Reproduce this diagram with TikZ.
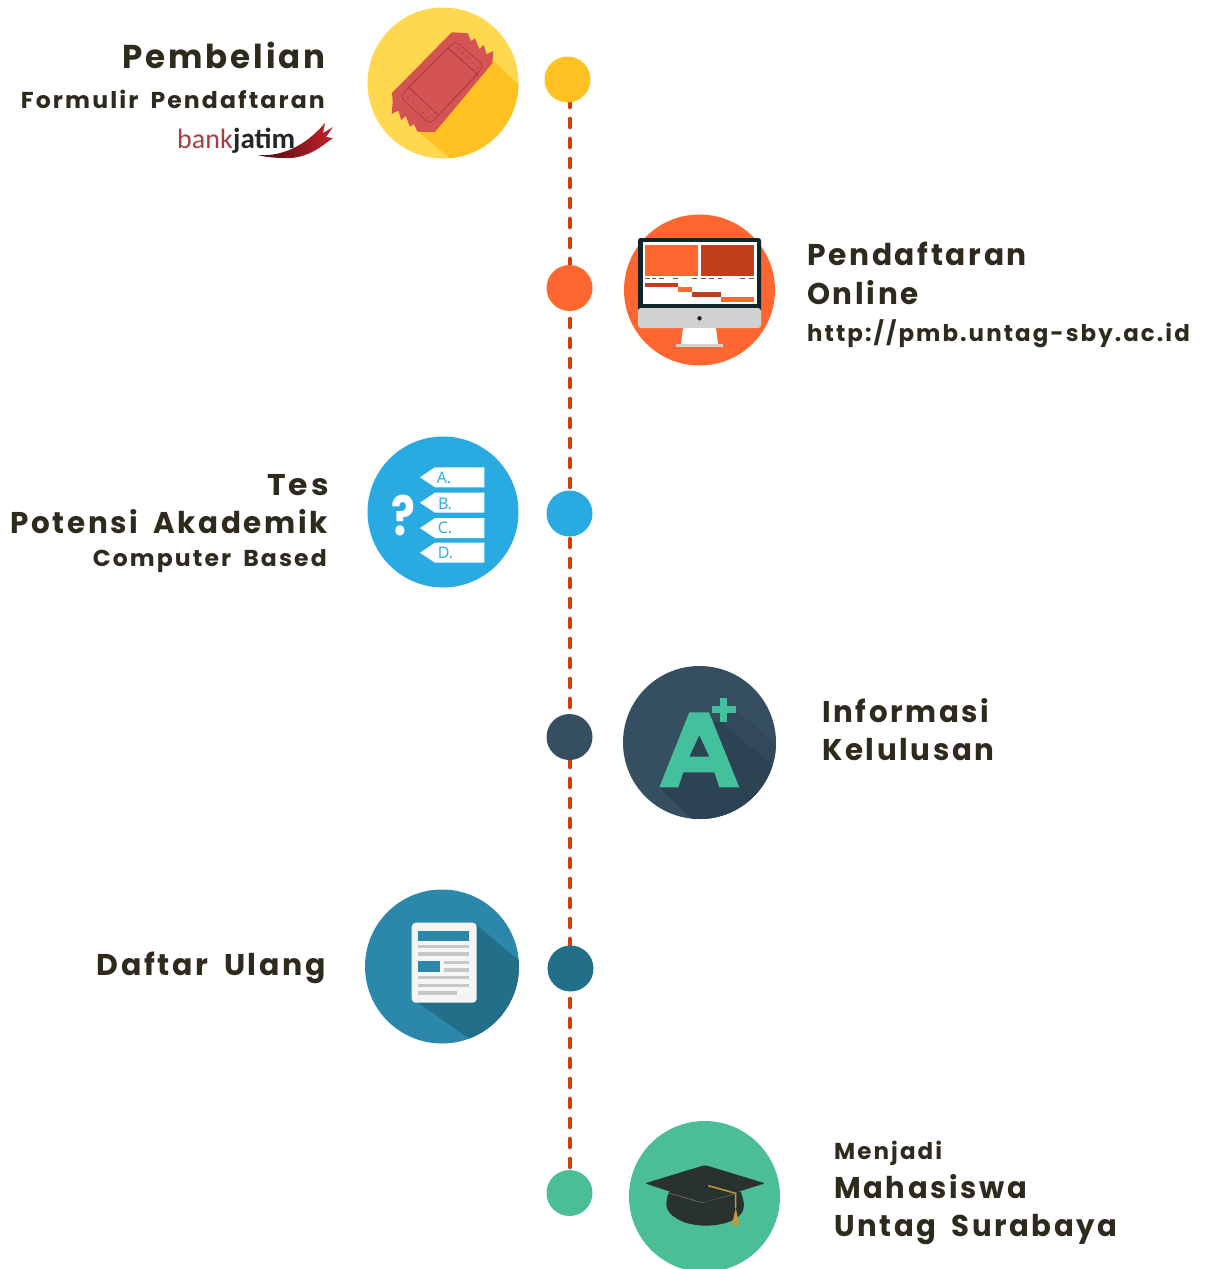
\documentclass[tikz,border=0pt]{standalone}
\usepackage{fontspec}
\setmainfont{Poppins}[UprightFont=* Bold,LetterSpace=9,WordSpace=1.7]
\newfontfamily\logofont{Carlito}
\newfontfamily\tagfont{Open Sans}
\definecolor{ink}{HTML}{2E2A1E}
\definecolor{yel}{HTML}{FFC222}
\definecolor{yellt}{HTML}{FFD84F}
\definecolor{org}{HTML}{FF6630}
\definecolor{orgd}{HTML}{C23F1E}
\definecolor{blu}{HTML}{29ABE2}
\definecolor{slate}{HTML}{364F60}
\definecolor{slatem}{HTML}{31495A}
\definecolor{slated}{HTML}{2C4354}
\definecolor{teal}{HTML}{2B88AA}
\definecolor{teald}{HTML}{236F8A}
\definecolor{grn}{HTML}{4BBE96}
\definecolor{mint}{HTML}{44C09C}
\definecolor{redt}{HTML}{D45353}
\definecolor{redd}{HTML}{A93C44}
\definecolor{capk}{HTML}{2A3230}
\definecolor{gold}{HTML}{C49A35}
\definecolor{bez}{HTML}{12232B}
\definecolor{lineo}{HTML}{D83A0C}
\definecolor{wingl}{HTML}{4A0A12}
\definecolor{wingm}{HTML}{E3202B}
\definecolor{wingr}{HTML}{C4202A}
\pgfdeclarelayer{back}
\pgfsetlayers{back,main}
\tikzset{
 x=1pt,y=-1pt,
 big/.style={circle,inner sep=0,minimum size=#1pt},
 dot/.style={circle,inner sep=0,minimum size=46pt,fill=#1},
 lbl/.style={inner sep=0,text=ink},
 lblr/.style={lbl,anchor=base east},
 lbll/.style={lbl,anchor=base west},
 link/.style={lineo,line width=4pt,line cap=round,dash pattern=on 8.5pt off 11.5pt,dash phase=#1},
 tagl/.style={inner sep=0,text=blu,font=\tagfont\fontsize{16}{16}\selectfont},
 greyl/.style={fill=black!22},
}
\newcommand{\fs}[1]{\fontsize{#1}{#1}\selectfont}
\newcommand{\sx}[2]{\scalebox{#1}[1]{#2}}
\begin{document}
\begin{tikzpicture}
\useasboundingbox (0,0) rectangle (1206,1269);
\clip (0,0) rectangle (1206,1269);
% timeline
\coordinate (lx) at (570,0);
\node[dot=yel] (d1) at (567.5,79.5) {};
\node[dot=org] (d2) at (569.5,288) {};
\node[dot=blu] (d3) at (569.5,513.5) {};
\node[dot=slate] (d4) at (569.5,737) {};
\node[dot=teald] (d5) at (570.5,968.5) {};
\node[dot=grn] (d6) at (569.5,1193) {};
\begin{pgfonlayer}{back}
\draw[link=0.75] (lx |- d1) -- (lx |- d2);
\draw[link=9.25] (lx |- d2) -- (lx |- d3);
\draw[link=14.75] (lx |- d3) -- (lx |- d4);
\draw[link=18.25] (lx |- d4) -- (lx |- d5);
\draw[link=9.75] (lx |- d5) -- (lx |- d6);
\end{pgfonlayer}
% ---- ticket
\node[big=151,fill=yellt] (c1) at (443,83) {};
\begin{scope}
\clip (443,83) circle[radius=75.5pt];
\fill[yel] (491,58) -- (560,125) -- (500,200) -- (418.6,132) -- cycle;
\end{scope}
\fill[redt,line join=round] (392,93) -- (451.7,32.3) -- (467.7,33.3) -- (471,41) -- (475,38.3) -- (479.3,49) -- (483.7,45) -- (486.7,54.3) -- (493.3,51) -- (492.3,63.3) -- (435,132) -- (417.3,131.7) -- (414,124) -- (410,126.7) -- (405.7,116) -- (401.3,120) -- (398.3,110.7) -- (391.7,114) -- (392.7,101.7) -- cycle;
\draw[redd,line width=.7pt,rounded corners=5pt] (455,40.7) -- (484.3,65.7) -- (430,124.3) -- (400,96.7) -- cycle;
\draw[redd,line width=1pt] (448.3,48.3) -- (478.3,75);
\draw[redd,line width=1pt] (408.3,86.7) -- (438.3,115);
\draw[redt!80!black,line width=.5pt] (448.3,48.3) -- (408.3,86.7);
\draw[redt!80!black,line width=.5pt] (478.3,75) -- (438.3,115);
\foreach \t in {0,.25,.5,.75,1}{
  \fill[redd] ({458+\t*20},{48+\t*19.7}) circle[radius=.9pt];
  \fill[redd] ({408+\t*20},{98+\t*20}) circle[radius=.9pt];
}
% ---- monitor
\node[big=151,fill=org] (c2) at (699.5,290) {};
\fill[bez,rounded corners=2.5pt] (638,238) rectangle (761,312);
\fill[white] (643,242) rectangle (757,304);
\fill[black!18,rounded corners=3pt] (638,308) -- (761,308) -- (761,328) -- (638,328) -- cycle;
\fill[white] (683,328) -- (716,328) -- (718,344.3) -- (681,344.3) -- cycle;
\fill[black!18] (675.7,344.3) rectangle (723,347);
\fill[bez] (699.5,318.3) circle[radius=2.2pt];
\fill[org] (645,245) rectangle (698,275.7);
\fill[orgd] (701,245) rectangle (753.7,275.7);
\foreach \xa/\xb in {645/649.5,652/656,659/664,673/678,692/697,701/706,709/713.5,718/722,740/744.5,749/754}
  \fill[black!65] (\xa,277.7) rectangle (\xb,278.9);
\fill[orgd] (645,283) rectangle (678,287.3);
\fill[org] (678,287.3) rectangle (692.3,292.3);
\fill[orgd] (692.3,292.3) rectangle (720.7,297);
\fill[org] (720.7,297) rectangle (753.7,301.7);
% ---- questions
\node[big=151,fill=blu] (c3) at (443,512) {};
\foreach \ya/\yb in {467.3/487.3,492.7/512.7,518/538,542.7/562.7}
  \fill[white] (484.3,\ya) -- (484.3,\yb) -- (435,\yb) -- (420,{(\ya+\yb)/2}) -- (435,\ya) -- cycle;
\node[tagl] (ta) at (444,478) {A.};
\node[tagl] (tb) at (445,503.5) {B.};
\node[tagl] (tc) at (445,528) {C.};
\node[tagl] (td) at (445.5,553) {D.};
\node[inner sep=0,text=white] (q) at (403.5,515) {\scalebox{.85}[1.05]{\fontsize{52}{52}\selectfont ?}};
% ---- A+
\node[big=153,fill=slate] (c4) at (699.5,742.5) {};
\begin{scope}
\clip (699.5,742.5) circle[radius=76.5pt];
\fill[slatem] (736,710) -- (800,766) -- (800,850) -- (700,850) -- (720,722) -- cycle;
\fill[slated] (720,721.7) -- (800,788.5) -- (800,850) -- (724,850) -- (659,787.5) -- (690,720) -- cycle;
\end{scope}
\fill[mint,even odd rule] (659.3,787.3) -- (689.3,712.3) -- (709,712.3) -- (739.3,787.3) -- (719.3,787.3) -- (714.3,772.3) -- (683.3,772.3) -- (678.3,787.3) -- cycle
 (699.3,735) -- (689.3,756.7) -- (709.3,756.7) -- cycle;
\fill[mint] (711.7,706) rectangle (736,713.3);
\fill[mint] (720,697.7) rectangle (727.3,721.7);
% ---- document
\node[big=154,fill=teal] (c5) at (442,966.5) {};
\begin{scope}
\clip (442,966.5) circle[radius=77pt];
\fill[teald] (476.7,925) -- (540,978) -- (540,1060) -- (500,1060) -- (418,1002.7) -- cycle;
\end{scope}
\fill[black!4,rounded corners=4pt] (411.7,922.7) rectangle (476.7,1002.7);
\fill[teal] (418.3,931) rectangle (469.3,941);
\foreach \ya/\xa/\xb in {945/418.3/469.3,952.3/418.3/469.3,960.7/444/469.3,968.3/444/469.3,976/418.3/469.3,983.7/418.3/469.3,991.3/418.3/456.7}
  \fill[greyl] (\xa,\ya) rectangle (\xb,\ya+3.3);
\fill[teal] (418.3,960.7) rectangle (440,971.7);
% ---- cap
\node[big=151,fill=grn] (c6) at (704.5,1196.5) {};
\fill[capk] (669,1191.7) .. controls (664,1205) and (666,1212) .. (676,1218) .. controls (690,1228) and (720,1228) .. (735,1219) .. controls (745,1213) and (746,1205) .. (740.7,1191.7) -- cycle;
\draw[black!55,line width=.6pt] (669,1193) -- (702,1202.7) -- (737,1193);
\fill[capk,rounded corners=2pt] (645,1183.3) -- (705,1165) -- (765,1183.3) -- (703.3,1202.7) -- cycle;
\draw[gold,line width=1.5pt] (708.3,1185.7) -- (735.7,1193.3) -- (735.7,1208);
\fill[gold] (735.7,1207.7) -- (732,1225) -- (739.3,1225) -- cycle;
% ---- logo
\shade[left color=wingl,middle color=wingm,right color=wingr]
 (258,155) .. controls (285,157) and (308,143) .. (325,123) -- (323,133) -- (333,127) -- (326,137) -- (333,138) -- (322,146) .. controls (310,155) and (295,159) .. (285,158) .. controls (275,158) and (265,157) .. (258,155) -- cycle;
\node[inner sep=0,anchor=base east,text=redd] (bk) at (233,148) {\logofont\fs{28}bank};
\node[inner sep=0,anchor=base west,text=black!85] (jt) at (233,148) {\logofont\bfseries\fs{29}jatim};
% ---- labels
\node[lblr] (t1) at (326,68) {\sx{.985}{\fs{33}Pembelian}};
\node[lblr] (t2) at (325,108.5) {\sx{1.024}{\fs{23}Formulir Pendaftaran}};
\node[lbll] (t3) at (807,265) {\sx{.99}{\fs{30}Pendaftaran}};
\node[lbll] (t4) at (807,304) {\sx{.98}{\fs{30}Online}};
\node[lbll] (t5) at (807,341) {\sx{.997}{\fs{23}http://pmb.untag-sby.ac.id}};
\node[lblr] (t6) at (329,495) {\sx{1.05}{\fs{30}Tes}};
\node[lblr] (t7) at (328,533) {\sx{.98}{\fs{30}Potensi Akademik}};
\node[lblr] (t8) at (327,566) {\sx{1.022}{\fs{23}Computer Based}};
\node[lbll] (t9) at (822,722) {\sx{.976}{\fs{30}Informasi}};
\node[lbll] (t10) at (822,760) {\sx{.977}{\fs{30}Kelulusan}};
\node[lblr] (t11) at (326,975) {\fs{30}Daftar Ulang};
\node[lbll] (t12) at (834,1159) {\fs{23}Menjadi};
\node[lbll] (t13) at (834,1198) {\sx{.97}{\fs{30}Mahasiswa}};
\node[lbll] (t14) at (834,1236) {\sx{.973}{\fs{30}Untag Surabaya}};
\end{tikzpicture}
\end{document}
